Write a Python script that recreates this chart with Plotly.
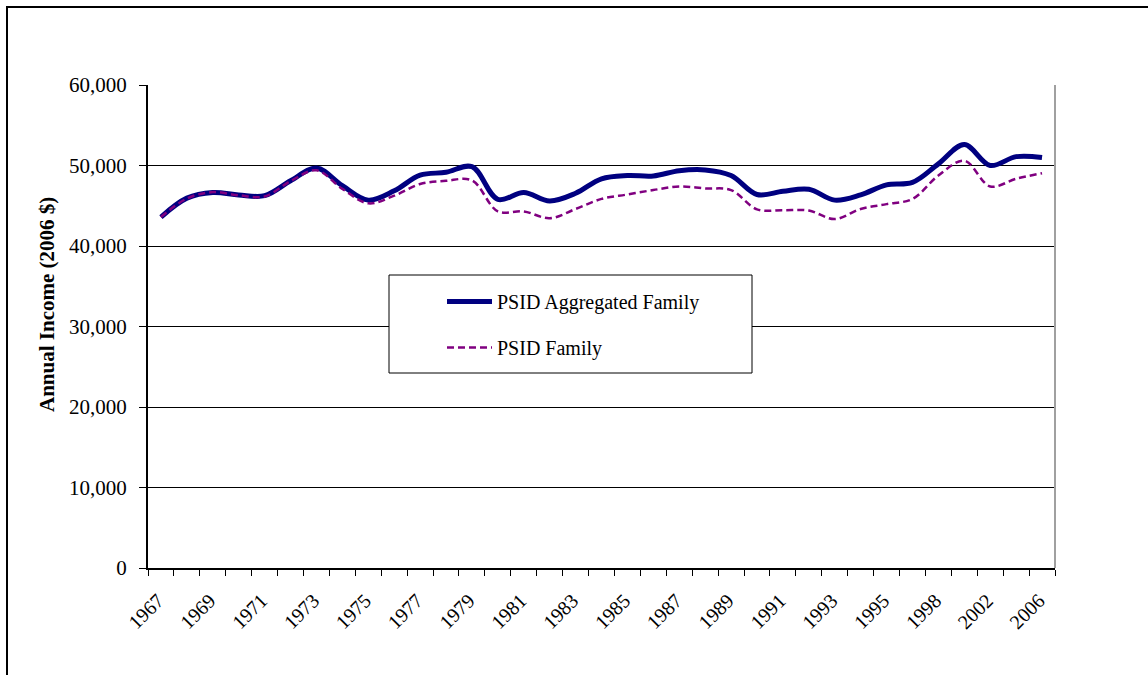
import plotly.graph_objects as go

years = ["1967", "1968", "1969", "1970", "1971", "1972", "1973", "1974", "1975", "1976",
         "1977", "1978", "1979", "1980", "1981", "1982", "1983", "1984", "1985", "1986",
         "1987", "1988", "1989", "1990", "1991", "1992", "1993", "1994", "1995", "1996",
         "1998", "2000", "2002", "2004", "2006"]

psid_aggregated = [43600, 45950, 46650, 46350, 46250, 48100, 49700, 47500, 45700, 46850,
                   48800, 49150, 49850, 45800, 46650, 45600, 46550, 48350, 48750, 48700,
                   49350, 49450, 48750, 46400, 46800, 47050, 45700, 46350, 47600, 47900,
                   50200, 52600, 50000, 51100, 51000]

psid_family = [43600, 45900, 46700, 46300, 46150, 48050, 49400, 47100, 45300, 46250,
               47700, 48100, 48150, 44300, 44300, 43450, 44600, 45850, 46400, 46950,
               47400, 47150, 46950, 44550, 44450, 44400, 43350, 44600, 45200, 45850,
               48750, 50600, 47400, 48350, 49050]

tick_text = [y if i % 2 == 0 else "" for i, y in enumerate(years)]
y_title = "Annual Income (2006 $)"

W, H = 1148, 675
OFF = 0  # page body margin removed via post_script
L, R, T, B = 148, 1055, 85, 568
pw, ph = R - L, B - T
ml, mt = L - OFF, T - OFF
mr = W - ml - pw
mb = H - mt - ph

def px(x):
    return (x - L) / pw

def py(y):
    return (B - y) / ph

FONT = "Liberation Serif, Times New Roman, serif"

fig = go.Figure()
fig.add_trace(go.Scatter(
    x=years, y=psid_aggregated, name="PSID Aggregated Family", mode="lines",
    line=dict(color="#000080", width=5, shape="spline", smoothing=1),
    legendgroup="a",
))
fig.add_trace(go.Scatter(
    x=years, y=psid_family, name="PSID Family", mode="lines",
    line=dict(color="#800080", width=2.5, dash="7px,4px", shape="spline", smoothing=1),
    legendgroup="b",
))

fig.update_layout(
    width=W, height=H,
    margin=dict(l=ml, r=mr, t=mt, b=mb, pad=0),
    paper_bgcolor="white", plot_bgcolor="white",
    font=dict(family=FONT, size=20, color="black"),
    showlegend=True,
    legend=dict(
        x=px(442), y=py(282), xanchor="left", yanchor="top",
        bgcolor="rgba(0,0,0,0)", borderwidth=0,
        font=dict(family=FONT, size=20, color="black"),
        tracegroupgap=17, traceorder="grouped", itemwidth=45,
    ),
    xaxis=dict(
        type="category", tickmode="array", tickvals=years, ticktext=tick_text,
        tickson="boundaries", ticks="outside", ticklen=6, tickcolor="black", tickwidth=1,
        tickangle=-45, showgrid=False, showline=True, linecolor="black", linewidth=2,
        range=[-0.5, len(years) - 0.5], zeroline=False,
        tickfont=dict(family=FONT, size=20),
        ticklabelstandoff=11, ticklabelshift=-3,
    ),
    yaxis=dict(
        range=[0, 60000], dtick=10000, tickformat=",", ticks="outside", ticklen=7,
        tickcolor="black", tickwidth=1, showgrid=True, gridcolor="black", gridwidth=1,
        showline=True, linecolor="black", linewidth=2, zeroline=False,
        tickfont=dict(family=FONT, size=21),
        ticklabelstandoff=8,
    ),
    annotations=[
        dict(text="<b>" + y_title + "</b>", xref="paper", yref="paper",
             x=px(47), y=py(305), xanchor="center", yanchor="middle",
             textangle=-90, showarrow=False, font=dict(family=FONT, size=21)),
    ],
    shapes=[
        # outer chart border
        dict(type="rect", xref="paper", yref="paper",
             x0=px(7), x1=px(1200), y0=py(720), y1=py(7),
             line=dict(color="black", width=2), fillcolor="rgba(0,0,0,0)", layer="above"),
        # right plot-area border
        dict(type="line", xref="paper", yref="paper", x0=1, x1=1, y0=0, y1=1,
             line=dict(color="#a0a0a0", width=2)),
        # legend box
        dict(type="rect", xref="paper", yref="paper",
             x0=px(389), x1=px(752), y0=py(373), y1=py(275),
             line=dict(color="black", width=1), fillcolor="white", layer="above"),
    ],
)

fig.write_html("out.html",
               config={"displayModeBar": False},
               post_script="document.body.style.margin='0';document.body.style.overflow='hidden';")
